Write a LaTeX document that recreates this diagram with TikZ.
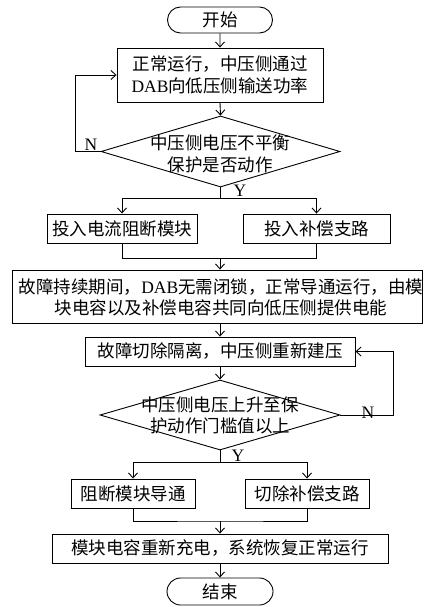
\documentclass[tikz,border=0pt]{standalone}
\usepackage{fontspec}
\setmainfont{Liberation Serif}
\newfontfamily\cjk{Noto Sans CJK SC}
\usetikzlibrary{arrows.meta,shapes.misc,shapes.geometric}
\begin{document}
\begin{tikzpicture}[x=1pt,y=-1pt,line width=0.9pt,
  txt/.style={inner sep=0pt,align=center,font=\cjk\fontsize{17.5}{21.5}\selectfont},
  box/.style={txt,draw,rectangle},
  term/.style={txt,draw,rounded rectangle},
  dia/.style={draw,diamond,inner sep=0pt},
  lbl/.style={inner sep=0pt,font=\rmfamily\fontsize{17.5}{20}\selectfont},
  ar/.style={-{Straight Barb[length=5pt,width=9pt]}}]
\useasboundingbox (0,0) rectangle (423,607);
% nodes
\node[term,minimum width=105pt,minimum height=26pt] (start) at (220,20) {开始};
\node[box,minimum width=206pt,minimum height=54pt] (b1) at (220,75) {正常运行，中压侧通过\\{\rmfamily DAB}向低压侧输送功率};
\node[dia,minimum width=239pt,minimum height=71pt] (d1) at (220.5,151.5) {};
\node[txt] (t1) at (220,154) {中压侧电压不平衡\\保护是否动作};
\node[lbl] (n1) at (91,145) {N};
\node[lbl] (y1) at (240,191) {Y};
\node[box,minimum width=150pt,minimum height=29pt] (b2a) at (122,228.5) {投入电流阻断模块};
\node[box,minimum width=147pt,minimum height=29pt] (b2b) at (316.5,228.5) {投入补偿支路};
\node[box,minimum width=410pt,minimum height=53pt] (b3) at (217,296.5) {};
\node[txt] (t3) at (221,297.5) {故障持续期间，{\rmfamily DAB}无需闭锁，正常导通运行，由模\\块电容以及补偿电容共同向低压侧提供电能};
\node[box,minimum width=270pt,minimum height=29pt] (b4) at (220,351.5) {故障切除隔离，中压侧重新建压};
\node[dia,minimum width=240pt,minimum height=70pt] (d2) at (220,415) {};
\node[txt] (t2) at (220,415.5) {中压侧电压上升至保\\护动作门槛值以上};
\node[lbl] (n2) at (368,413) {N};
\node[lbl] (y2) at (238,456) {Y};
\node[box,minimum width=124pt,minimum height=29pt] (b5a) at (133,493.5) {阻断模块导通};
\node[box,minimum width=124pt,minimum height=29pt] (b5b) at (307,493.5) {切除补偿支路};
\node[box,minimum width=336pt,minimum height=29pt] (b6) at (220,548.5) {模块电容重新充电，系统恢复正常运行};
\node[term,minimum width=106pt,minimum height=27pt] (end) at (220,591.5) {结束};
% connectors
\draw[ar] (start) -- (b1);
\draw[ar] (b1.south) -- (d1.north);
\draw[ar] (d1.west) -- ++(-25,0) |- (b1.west);
\draw (d1.south) -- ++(0,11) coordinate (j1);
\draw[ar] (j1) -| (b2a.north);
\draw[ar] (j1) -| (b2b.north);
\coordinate (j2) at (220,258.5);
\draw (b2a.south) |- (j2) -| (b2b.south);
\draw[ar] (j2) -- (j2 |- b3.north);
\draw[ar] (b3.south -| b4.north) -- (b4.north);
\draw[ar] (b4.south) -- (d2.north);
\draw[ar] (d2.east) -- ++(53,0) |- (b4.east);
\draw (d2.south) -- ++(0,12) coordinate (j3);
\draw[ar] (j3) -| (b5a.north);
\draw[ar] (j3) -| (b5b.north);
\coordinate (j4) at (220,521);
\draw (b5a.south) |- (j4) -| (b5b.south);
\draw[ar] (j4) -- (b6.north);
\draw[ar] (b6.south) -- (end.north);
\end{tikzpicture}
\end{document}
